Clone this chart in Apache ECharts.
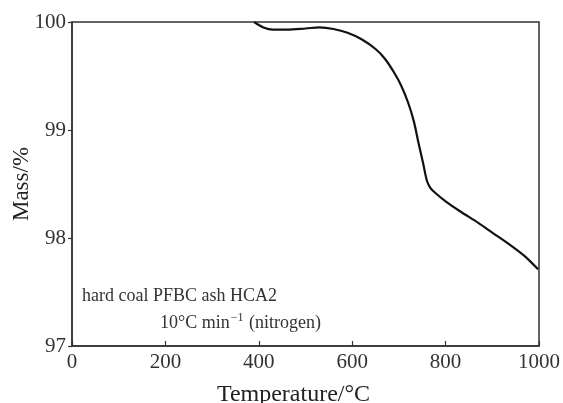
<!DOCTYPE html>
<html>
<head>
<meta charset="utf-8">
<script src="https://cdn.jsdelivr.net/npm/echarts@6/dist/echarts.min.js"></script>
<style>
  html, body { margin: 0; padding: 0; background: #fff; }
  #chart { width: 563px; height: 403px; }
</style>
</head>
<body>
<div id="chart"></div>
<script>
// TG curve of hard coal PFBC ash HCA2 under nitrogen
const temperature = [390, 410, 430, 460, 500, 530, 560, 590, 620, 650, 670, 690, 705, 720, 732, 742, 752, 760, 768, 780, 800, 830, 870, 900, 940, 970, 998];
const massPercent = [100.0, 99.95, 99.93, 99.93, 99.94, 99.95, 99.935, 99.90, 99.84, 99.75, 99.66, 99.53, 99.41, 99.25, 99.08, 98.88, 98.69, 98.53, 98.46, 98.41, 98.34, 98.25, 98.14, 98.05, 97.93, 97.83, 97.71];
const xTicks = [0, 200, 400, 600, 800, 1000];
const yTicks = [97, 98, 99, 100];

const serif = '"Liberation Serif", "DejaVu Serif", serif';
const chart = echarts.init(document.getElementById('chart'));

chart.setOption({
  animation: false,
  backgroundColor: '#fff',
  grid: {
    left: 72, right: 24, top: 22, bottom: 57,
    containLabel: false,
    outerBoundsMode: 'none',
    show: true, borderColor: '#333', borderWidth: 1.5
  },
  xAxis: {
    type: 'value',
    min: xTicks[0], max: xTicks[xTicks.length - 1], interval: 200,
    name: 'Temperature/°C',
    nameLocation: 'middle',
    nameGap: 37,
    nameMoveOverlap: false,
    nameTextStyle: { fontFamily: serif, fontSize: 24, color: '#222', padding: [0, 24, 0, 0] },
    axisLine: { show: true, lineStyle: { color: '#333', width: 1.5 } },
    axisTick: { show: true, inside: true, length: 5, lineStyle: { color: '#333', width: 1.2 } },
    axisLabel: { fontFamily: serif, fontSize: 21, color: '#333', margin: 6, formatter: v => String(v) },
    splitLine: { show: false }
  },
  yAxis: {
    type: 'value',
    min: yTicks[0], max: yTicks[yTicks.length - 1], interval: 1,
    name: 'Mass/%',
    nameLocation: 'middle',
    nameGap: 39,
    nameMoveOverlap: false,
    nameTextStyle: { fontFamily: serif, fontSize: 23, color: '#222' },
    axisLine: { show: true, lineStyle: { color: '#333', width: 1.5 } },
    axisTick: { show: true, inside: false, length: 4, lineStyle: { color: '#333', width: 1.2 } },
    axisLabel: { fontFamily: serif, fontSize: 21, color: '#333', margin: 6, formatter: v => String(v) },
    splitLine: { show: false }
  },
  series: [{
    type: 'line',
    data: temperature.map((t, i) => [t, massPercent[i]]),
    smooth: 0.3,
    showSymbol: false,
    lineStyle: { color: '#111', width: 2.2 },
    z: 5
  }],
  graphic: [
    {
      type: 'text', left: 82, top: 287,
      style: { text: 'hard coal PFBC ash HCA2', fontFamily: serif, fontSize: 18, fill: '#333' }
    },
    {
      type: 'text', left: 160, top: 312,
      style: {
        text: '{n|10°C min}{s|−1}{n| (nitrogen)}',
        rich: {
          n: { fontFamily: serif, fontSize: 18, fill: '#333' },
          s: { fontFamily: serif, fontSize: 12, fill: '#333', padding: [0, 1, 10, 1] }
        }
      }
    }
  ]
});
</script>
</body>
</html>
